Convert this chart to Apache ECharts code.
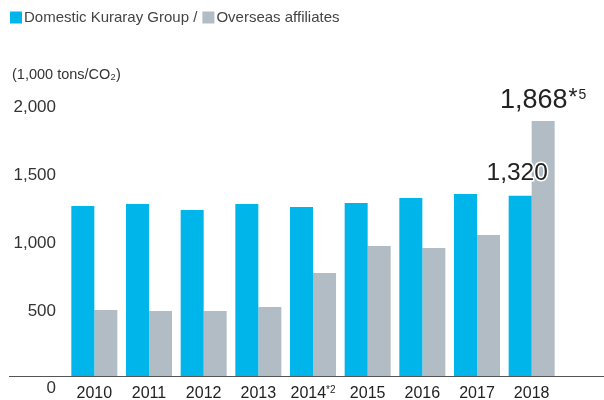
<!DOCTYPE html>
<html>
<head>
<meta charset="utf-8">
<script src="https://cdn.jsdelivr.net/npm/echarts@6/dist/echarts.min.js"></script>
<style>
  html, body { margin: 0; padding: 0; background: #fff; }
  #chart { width: 604px; height: 400px; }
</style>
</head>
<body>
<div id="chart"></div>
<script>
const years = ["2010", "2011", "2012", "2013", "2014", "2015", "2016", "2017", "2018"];
const domestic = [1245, 1260, 1216, 1260, 1238, 1267, 1304, 1333, 1320];
const overseas = [484, 476, 476, 505, 755, 952, 938, 1033, 1868];
const yTicks = [0, 500, 1000, 1500, 2000];

const FONT = "Liberation Sans, Arial, sans-serif";
const BLUE = "#00b5ea";
const GRAY = "#b1bcc4";

const chart = echarts.init(document.getElementById("chart"));

const last = years.length - 1;

const option = {
  animation: false,
  textStyle: { fontFamily: FONT },
  title: {
    text: "(1,000 tons/CO\u2082)",
    left: 12,
    top: 67,
    padding: 0,
    textStyle: { fontSize: 14.5, fontWeight: "normal", color: "#333", fontFamily: FONT },
  },
  legend: {
    left: 10,
    top: 10,
    padding: 0,
    itemWidth: 12,
    itemHeight: 12,
    itemGap: 5,
    icon: "rect",
    textStyle: { fontSize: 15, color: "#444", padding: [0, 0, 0, -3], fontFamily: FONT },
    formatter: (name) => (name === "Domestic Kuraray Group" ? name + " /" : name),
  },
  grid: {
    left: 67,
    right: 45,
    top: 103,
    bottom: 24,
    containLabel: false,
    outerBoundsMode: "none",
  },
  xAxis: {
    type: "category",
    data: years,
    axisLine: { show: false },
    axisTick: { show: false },
    axisLabel: {
      interval: 0,
      margin: 9,
      fontSize: 16,
      lineHeight: 18,
      color: "#222",
      fontFamily: FONT,
      formatter: (v) => (v === "2014" ? "{y|" + v + "}{sup|*2}" : "{y|" + v + "}"),
      rich: {
        y: { fontSize: 16, lineHeight: 18, color: "#222", fontFamily: FONT },
        sup: { fontSize: 10, lineHeight: 12, verticalAlign: "top", color: "#222", fontFamily: FONT },
      },
    },
  },
  yAxis: {
    type: "value",
    min: yTicks[0],
    max: yTicks[yTicks.length - 1],
    interval: 500,
    splitLine: { show: false },
    axisLine: { show: false },
    axisTick: { show: false },
    axisLabel: {
      margin: 11,
      fontSize: 17,
      color: "#333",
      fontFamily: FONT,
      formatter: (v) => (v === 0 ? "{z|0}" : "{n|" + v.toLocaleString("en-US") + "}"),
      rich: {
        n: { fontSize: 17, color: "#333", padding: [8, 0, 0, 0], fontFamily: FONT },
        z: { fontSize: 17, color: "#333", padding: [24, 0, 0, 0], fontFamily: FONT },
      },
    },
  },
  graphic: [
    {
      type: "line",
      shape: { x1: 9, y1: 376.5, x2: 604, y2: 376.5 },
      style: { stroke: "#555", lineWidth: 1.2 },
      z: 10,
    },
  ],
  series: [
    {
      name: "Domestic Kuraray Group",
      type: "bar",
      barWidth: 23,
      barGap: "0%",
      itemStyle: { color: BLUE },
      data: domestic.map((v, i) =>
        i === last
          ? {
              value: v,
              label: {
                show: true,
                position: "top",
                distance: 10,
                offset: [-3, 0],
                fontSize: 24.5,
                color: "#222",
                textBorderColor: "#fff",
                textBorderWidth: 3,
                fontFamily: FONT,
                formatter: (p) => p.value.toLocaleString("en-US"),
              },
            }
          : v
      ),
      z: 2,
    },
    {
      name: "Overseas affiliates",
      type: "bar",
      barWidth: 23,
      itemStyle: { color: GRAY },
      data: overseas.map((v, i) =>
        i === last
          ? {
              value: v,
              label: {
                show: true,
                position: "top",
                distance: 7,
                fontSize: 27,
                color: "#222",
                fontFamily: FONT,
                formatter: (p) => p.value.toLocaleString("en-US") + "{ast|*}{sup|5}",
                rich: {
                  ast: { fontSize: 23, color: "#222", padding: [0, 0, 3, 1], fontFamily: FONT },
                  sup: { fontSize: 14, color: "#222", padding: [0, 0, 10, 1], fontFamily: FONT },
                },
              },
            }
          : v
      ),
      z: 1,
    },
  ],
};

chart.setOption(option);
window.addEventListener("resize", () => chart.resize());
</script>
</body>
</html>
